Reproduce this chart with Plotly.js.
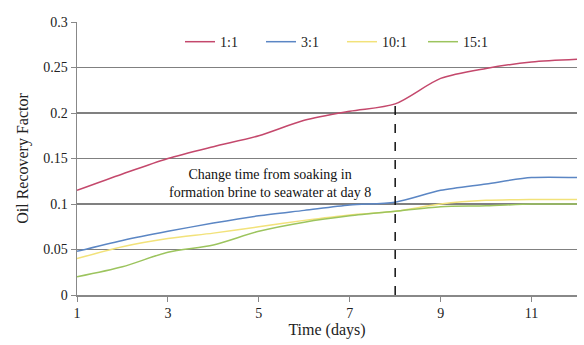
<!DOCTYPE html>
<html><head><meta charset="utf-8">
<script src="https://cdn.plot.ly/plotly-3.0.1.min.js"></script>
<style>body{margin:0;background:#fff}#chart{width:584px;height:345px}</style>
</head><body><div id="chart"></div>
<script>
const days = [1,2,3,4,5,6,7,8,9,10,11,12];
const r1_1 = [0.115,0.133,0.150,0.163,0.175,0.192,0.202,0.210,0.238,0.249,0.256,0.259];
const r3_1 = [0.048,0.060,0.070,0.079,0.087,0.093,0.099,0.102,0.115,0.122,0.129,0.129];
const r10_1 = [0.040,0.053,0.062,0.068,0.075,0.082,0.088,0.092,0.100,0.104,0.105,0.105];
const r15_1 = [0.020,0.031,0.047,0.055,0.070,0.080,0.087,0.092,0.097,0.098,0.100,0.100];
const seriesNames = ['1:1','3:1','10:1','15:1'];
const seriesColors = ['#c4486c','#5b86c4','#f2e27a','#9cc45e'];
const xTicks = [1,3,5,7,9,11];
const changeDay = 8;
const noteText = 'Change time from soaking in<br>formation brine to seawater at day 8';

const all = [r1_1, r3_1, r10_1, r15_1];
const traces = all.map((v,i)=>({
  x: days, y: v, name: seriesNames[i], type:'scatter', mode:'lines',
  line:{color:seriesColors[i], width:1.5, shape:'spline', smoothing:0.8}
}));
const FONT = 'Liberation Serif, Times New Roman, serif';
const layout = {
  width:584, height:345,
  margin:{l:77, r:7, t:22, b:50},
  paper_bgcolor:'#fff', plot_bgcolor:'#fff',
  font:{family:FONT, size:14, color:'#222'},
  showlegend:true,
  legend:{orientation:'h', x:0.53, y:0.985, xanchor:'center', yanchor:'top',
          entrywidth:36, entrywidthmode:'pixels',
          font:{family:FONT, size:14}, bgcolor:'rgba(0,0,0,0)', tracegroupgap:0},
  xaxis:{range:[1,12], tickvals:xTicks, ticks:'outside', ticklen:5, tickcolor:'#888',
         showgrid:false, showline:true, linecolor:'#888', linewidth:1.5, zeroline:false,
         title:{text:'Time (days)', font:{family:FONT, size:16}, standoff:2}, tickfont:{family:FONT, size:14}},
  yaxis:{range:[0,0.3], dtick:0.05, ticks:'outside', ticklen:5, tickcolor:'#888',
         showgrid:true, gridcolor:'#808080', gridwidth:1.6, showline:true, linecolor:'#888',
         linewidth:1.5, zeroline:false, tickformat:'~g',
         title:{text:'Oil Recovery Factor', font:{family:FONT, size:16}, standoff:10}, tickfont:{family:FONT, size:14}},
  shapes:[{type:'line', xref:'x', yref:'y', x0:changeDay, x1:changeDay, y0:0,
           y1:r1_1[days.indexOf(changeDay)], line:{color:'#111', width:1.5, dash:'dash'}}],
  annotations:[{xref:'x', yref:'y', x:5.25, y:0.123, text:noteText, showarrow:false,
                font:{family:FONT, size:14, color:'#111'}, align:'center', xanchor:'center', yanchor:'middle'}]
};
Plotly.newPlot('chart', traces, layout, {displayModeBar:false, staticPlot:true});
</script></body></html>
